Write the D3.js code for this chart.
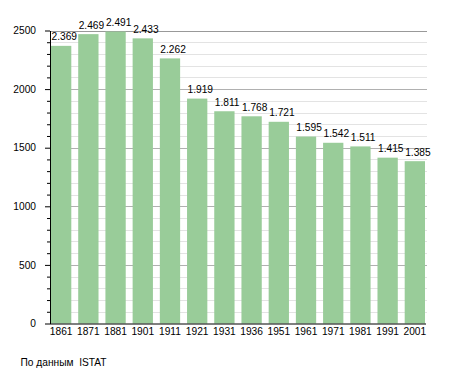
<!DOCTYPE html>
<html>
<head>
<meta charset="utf-8">
<script src="https://cdn.jsdelivr.net/npm/d3@7"></script>
<style>
  body { margin: 0; background: #fff; }
  text { font-family: "Liberation Sans", Arial, sans-serif; }
</style>
</head>
<body>
<div id="chart"></div>
<script>
// population by census year
var years = ["1861","1871","1881","1901","1911","1921","1931","1936","1951","1961","1971","1981","1991","2001"];
var population = [2369, 2469, 2491, 2433, 2262, 1919, 1811, 1768, 1721, 1595, 1542, 1511, 1415, 1385];
var yTicks = [0, 500, 1000, 1500, 2000, 2500];

var width = 455, height = 373;
var margin = {top: 30.5, right: 29, bottom: 49.5, left: 50};
var fontSize = "10.2px";

var svg = d3.select("#chart")
    .append("svg")
    .attr("width", width)
    .attr("height", height);

var x = d3.scaleBand()
    .domain(years)
    .range([margin.left, width - margin.right])
    .paddingInner(0.254)
    .paddingOuter(0.037);

var y = d3.scaleLinear()
    .domain([0, 2500])
    .range([height - margin.bottom, margin.top]);

var fmt = d => d3.format(",")(d).replace(",", ".");

// grid lines
var minor = d3.range(100, 2501, 100).filter(d => d % 500 != 0);
svg.append("g")
    .selectAll("line")
    .data(minor)
    .join("line")
    .attr("x1", margin.left)
    .attr("x2", width - margin.right + 1)
    .attr("y1", d => Math.round(y(d)) + 0.5)
    .attr("y2", d => Math.round(y(d)) + 0.5)
    .attr("stroke", "#e3e3e3");

svg.append("g")
    .selectAll("line")
    .data(yTicks.slice(1))
    .join("line")
    .attr("x1", margin.left)
    .attr("x2", width - margin.right + 1)
    .attr("y1", d => Math.round(y(d)) + 0.5)
    .attr("y2", d => Math.round(y(d)) + 0.5)
    .attr("stroke", d => d == 2500 ? "#999" : "#b0b0b0");

// bars
svg.append("g")
    .selectAll("rect")
    .data(population)
    .join("rect")
    .attr("x", (d, i) => x(years[i]))
    .attr("y", d => y(d))
    .attr("width", x.bandwidth())
    .attr("height", d => y(0) - y(d))
    .attr("fill", "#99cc99");

// value labels
svg.append("g")
    .selectAll("text")
    .data(population)
    .join("text")
    .attr("x", (d, i) => x(years[i]) + 0.5)
    .attr("y", d => y(d) - 5.5)
    .attr("font-size", fontSize)
    .attr("fill", "#000")
    .text(d => fmt(d));

// y axis with minor ticks
svg.append("g")
    .attr("transform", `translate(${margin.left},0)`)
    .call(d3.axisLeft(y).tickValues(minor).tickSize(3).tickFormat(""))
    .call(g => g.select(".domain").remove());

svg.append("g")
    .attr("transform", `translate(${margin.left},0)`)
    .call(d3.axisLeft(y).tickValues(yTicks).tickFormat(d3.format("d")).tickSize(5).tickSizeOuter(0).tickPadding(9))
    .call(g => g.selectAll("text").attr("font-size", fontSize).attr("font-family", "Liberation Sans, Arial, sans-serif"));

// x axis
svg.append("g")
    .attr("transform", `translate(0,${y(0)})`)
    .call(d3.axisBottom(x).tickSize(0).tickSizeOuter(0).tickPadding(4))
    .call(g => g.select(".domain").attr("d", `M${margin.left},0.5H${width - margin.right}`))
    .call(g => g.selectAll("text").attr("font-size", fontSize).attr("font-family", "Liberation Sans, Arial, sans-serif"));

svg.append("text")
    .attr("x", 20.5)
    .attr("y", 365.5)
    .attr("font-size", fontSize)
    .attr("xml:space", "preserve")
    .style("white-space", "pre")
    .text("По данным  ISTAT");
</script>
</body>
</html>
